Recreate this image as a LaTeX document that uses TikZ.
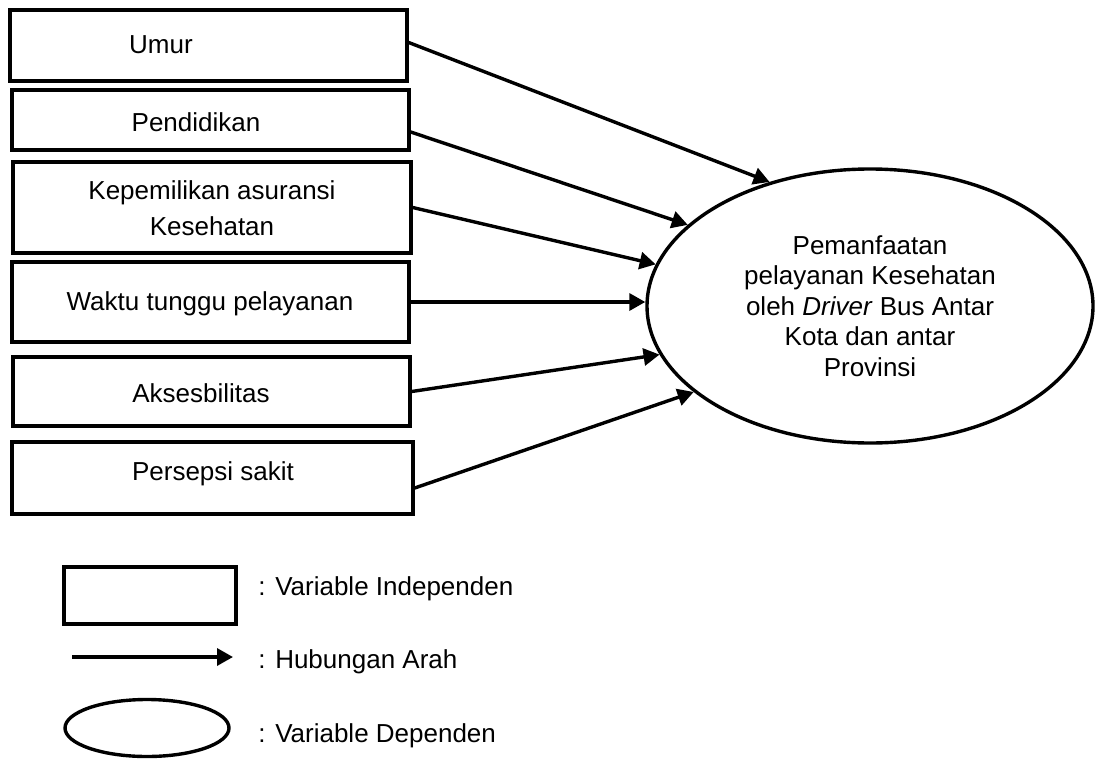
\documentclass[tikz,border=0pt]{standalone}
\usepackage{fontspec}
\setmainfont{Liberation Sans}
\usetikzlibrary{arrows.meta,positioning,shapes.geometric}

\begin{document}
\begin{tikzpicture}[x=0.5pt,y=-0.5pt,
        every node/.style={font=\fontsize{13}{15.25}\selectfont},
        varbox/.style={draw, rectangle, line width=1.7pt, inner sep=0pt},
        vardep/.style={draw, ellipse, line width=1.7pt, inner sep=0pt, align=center},
        rel/.style={-{Triangle[length=8pt,width=8.5pt]}, line width=1.7pt},
        lbl/.style={anchor=base, inner sep=0pt},
        leglbl/.style={anchor=base west, inner sep=0pt}]
        \useasboundingbox (0,0) rectangle (1102,760);

        % independent variables
        \node[varbox, minimum width=198.5pt, minimum height=35.5pt] (umur) at (208.5,45.5) {};
        \node[varbox, minimum width=198.5pt, minimum height=30pt] (pendidikan) at (210.5,120) {};
        \node[varbox, minimum width=199pt, minimum height=45.5pt] (asuransi) at (212,207.5) {};
        \node[varbox, minimum width=198.5pt, minimum height=40pt] (waktu) at (210.5,302) {};
        \node[varbox, minimum width=198.5pt, minimum height=34.5pt] (akses) at (211.5,391.5) {};
        \node[varbox, minimum width=200.5pt, minimum height=36pt] (persepsi) at (212.5,478) {};

        \node[lbl] (umur-txt) at (161,54) {Umur};
        \node[lbl] (pendidikan-txt) at (196,131) {Pendidikan};
        \node[lbl] (asuransi-txt-a) at (212,199) {Kepemilikan asuransi};
        \node[lbl] (asuransi-txt-b) at (212,235) {Kesehatan};
        \node[lbl] (waktu-txt) at (210,310) {Waktu tunggu pelayanan};
        \node[lbl] (akses-txt) at (201,402) {Aksesbilitas};
        \node[lbl] (persepsi-txt) at (213,480) {Persepsi sakit};

        % dependent variable
        \node[vardep, minimum width=223pt, minimum height=137pt] (dep) at (870,306)
                {Pemanfaatan\\pelayanan Kesehatan\\oleh \textit{Driver} Bus Antar\\Kota dan antar\\Provinsi};

        \draw[rel] ([yshift=1.5pt]umur.east) -- (dep.129.7);
        \draw[rel] ([yshift=-6pt]pendidikan.east) -- (dep.156.4);
        \draw[rel] (asuransi.east) -- (dep.169.1);
        \draw[rel] (waktu.east) -- (waktu.east -| dep.west);
        \draw[rel] (akses.east) -- (dep.193.8);
        \draw[rel] ([yshift=-5pt]persepsi.east) -- (dep.206);

        % legend
        \node[varbox, minimum width=86pt, minimum height=28.5pt] (leg-box) at (150,595.5) {};
        \node[leglbl] (leg-box-txt) at (258,595) {: Variable Independen};
        \coordinate (leg-a) at (72,657);
        \coordinate (leg-b) at (233,657);
        \draw[rel] (leg-a) -- (leg-b);
        \node[leglbl] (leg-rel-txt) at (258,668) {: Hubungan Arah};
        \node[vardep, minimum width=82pt, minimum height=28.5pt] (leg-ell) at (147,728) {};
        \node[leglbl] (leg-ell-txt) at (258,742) {: Variable Dependen};
\end{tikzpicture}
\end{document}
